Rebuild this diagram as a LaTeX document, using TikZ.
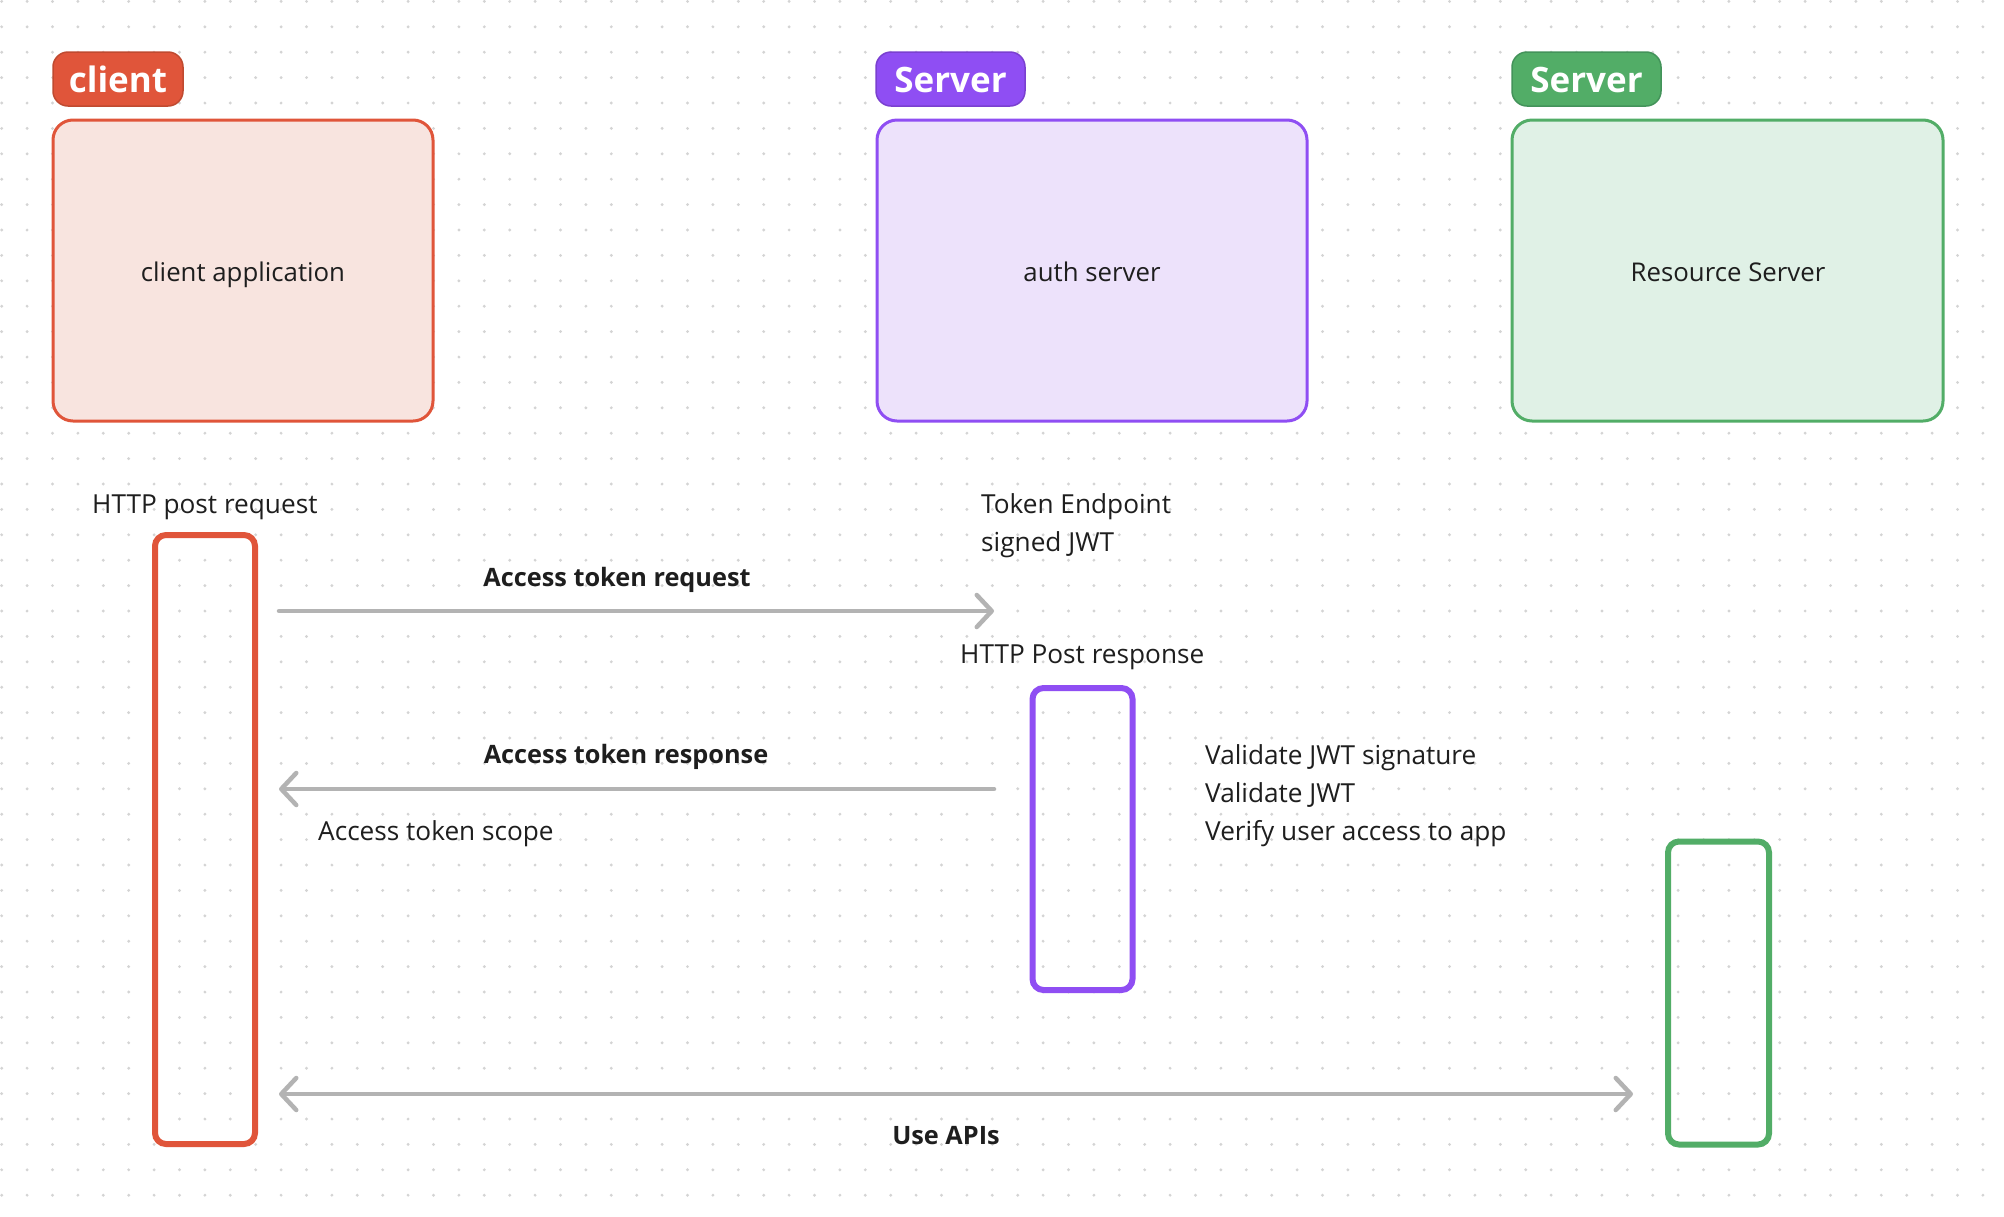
\documentclass[tikz,border=0pt]{standalone}
\usepackage{fontspec}
\setmainfont{Open Sans}
\usetikzlibrary{arrows.meta}
\definecolor{redc}{HTML}{E0553A}
\definecolor{redf}{HTML}{F8E4DF}
\definecolor{redtb}{HTML}{C04A30}
\definecolor{purc}{HTML}{8F4EF3}
\definecolor{purf}{HTML}{EDE2FB}
\definecolor{purtb}{HTML}{7A40D0}
\definecolor{grnc}{HTML}{52AD67}
\definecolor{grnf}{HTML}{E0F1E6}
\definecolor{grntb}{HTML}{43935A}
\definecolor{arrowc}{HTML}{B3B3B3}
\definecolor{dotc}{HTML}{D4D4D4}
\definecolor{txt}{HTML}{1E1E1E}
\tikzset{
  tagbox/.style={draw=#1, line width=1.5pt, rounded corners=15pt, inner sep=0pt},
  mainbox/.style={draw=#1, line width=3pt, rounded corners=20pt, inner sep=0pt},
  actbox/.style={draw=#1, line width=6pt, rounded corners=11pt, inner sep=0pt},
  tagtext/.style={text=white, font=\fontsize{35}{40}\selectfont\bfseries, anchor=base, inner sep=0pt},
  boxtext/.style={text=txt, font=\fontsize{25.8}{30}\selectfont, anchor=base, inner sep=0pt},
  lbl/.style={text=txt, font=\fontsize{26.2}{30}\selectfont, anchor=base west, inner sep=0pt},
  blbl/.style={text=txt, font=\fontsize{25.3}{30}\selectfont\bfseries, anchor=base, inner sep=0pt},
  msg/.style={draw=arrowc, line width=4.5pt, line cap=round},
  tipr/.style={-{Straight Barb[length=15pt,width=32pt,round]}},
  tipb/.style={{Straight Barb[length=15pt,width=32pt,round]}-{Straight Barb[length=15pt,width=32pt,round]}}
}
\begin{document}
\begin{tikzpicture}[x=1pt,y=-1pt]
\useasboundingbox (0,0) rectangle (2004,1216);
\fill[white] (0,0) rectangle (2004,1216);
% dot grid
\foreach \i in {0,...,78} {
  \foreach \j in {0,...,47} {
    \fill[dotc] ({1.7+25.4*\i},{1.4+25.4*\j}) circle (1.6);
  }
}
% tags
\filldraw[fill=redc, tagbox=redtb] (53,52) rectangle (183,106);
\node[tagtext] (tagc) at (118,92) {client};
\filldraw[fill=purc, tagbox=purtb] (876,52) rectangle (1025,106);
\node[tagtext] (taga) at (950.5,92) {Server};
\filldraw[fill=grnc, tagbox=grntb] (1512,52) rectangle (1661,106);
\node[tagtext] (tagr) at (1586.5,92) {Server};
% main boxes
\filldraw[fill=redf, mainbox=redc] (53,120) rectangle (433,421);
\node[boxtext] (client) at (243,281) {client application};
\filldraw[fill=purf, mainbox=purc] (877,120) rectangle (1307,421);
\node[boxtext] (auth) at (1092,281) {auth server};
\filldraw[fill=grnf, mainbox=grnc] (1512,120) rectangle (1943,421);
\node[boxtext] (res) at (1728,281) {Resource Server};
% activation boxes
\node[actbox=redc, minimum width=100pt, minimum height=609pt] (actc) at (205,839.5) {};
\node[actbox=purc, minimum width=100pt, minimum height=302pt] (acta) at (1082.5,839) {};
\node[actbox=grnc, minimum width=101pt, minimum height=303pt] (actr) at (1718.5,993) {};
% labels
\node[lbl] (l1) at (92,513) {HTTP post request};
\node[lbl] (l2) at (981,513) {Token Endpoint};
\node[lbl] (l3) at (981,551) {signed JWT};
\node[lbl] (l4) at (960,663) {HTTP Post response};
\node[lbl] (l5) at (1205,764) {Validate JWT signature};
\node[lbl] (l6) at (1205,802) {Validate JWT};
\node[lbl] (l7) at (1205,840) {Verify user access to app};
\node[lbl] (l8) at (318,840) {Access token scope};
\node[blbl] (m1) at (617,586) {Access token request};
\node[blbl] (m2) at (626,763) {Access token response};
\node[blbl] (m3) at (946,1144) {Use APIs};
% connectors
\coordinate (a1s) at ([xshift=21pt]actc.east |- 0,611);
\coordinate (a1e) at (994,611);
\draw[msg, tipr] (a1s) -- (a1e);
\coordinate (a2s) at (994,789);
\coordinate (a2e) at ([xshift=21pt]actc.east |- 0,789);
\draw[msg, tipr] (a2s) -- (a2e);
\coordinate (a3s) at ([xshift=21pt]actc.east |- 0,1094);
\coordinate (a3e) at ([xshift=-32pt]actr.west |- 0,1094);
\draw[msg, tipb] (a3s) -- (a3e);
\end{tikzpicture}
\end{document}
